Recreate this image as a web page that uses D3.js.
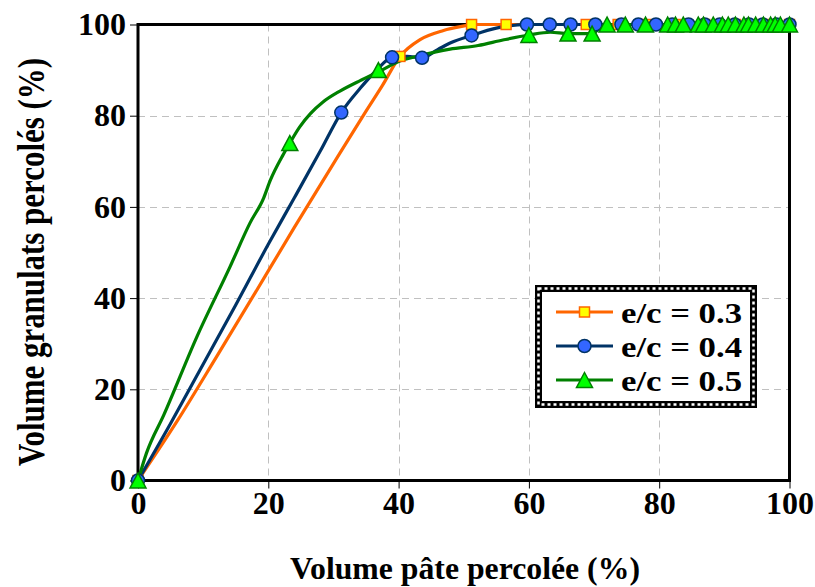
<!DOCTYPE html>
<html><head><meta charset="utf-8">
<script src="https://cdn.jsdelivr.net/npm/d3@7"></script>
<style>body{margin:0;background:#fff}svg{display:block}</style>
</head><body>
<svg id="c" width="815" height="587"></svg>
<script>
const xTicks = [0, 20, 40, 60, 80, 100];
const yTicks = [0, 20, 40, 60, 80, 100];
const xTitle = "Volume pâte percolée (%)";
const yTitle = "Volume granulats percolés (%)";
const seriesNames = ["e/c = 0.3", "e/c = 0.4", "e/c = 0.5"];

// smoothed curves (x, y)
const curve03 = [[0,0],[6,13],[12,27],[18,41.2],[24,55.5],[30,69.5],[35,81],[37.5,86.6],[40.2,93],[43.3,96.7],[46.9,98.7],[50.5,99.8],[51.2,100],[56.5,100],[100,100]];
const curve04 = [[0,0],[5,12.5],[10,25.5],[15,38.5],[20,51.8],[24,62],[28,72.3],[31.2,80.7],[34.1,86],[36.5,89.8],[39,92.8],[41.3,93],[43.6,92.7],[46,94.5],[48,96],[51.2,97.6],[55,99.2],[59.7,100],[100,100]];
const curve05 = [[0,0],[1.3,6],[4,14.5],[9,31.4],[14.1,46.8],[17.2,56.5],[19.3,62],[20.3,65.8],[22.3,71.5],[23.3,74],[24.8,77.5],[26.5,80.5],[28.4,83],[31,85.4],[34.1,87.7],[36.9,89.6],[40.2,92],[43.3,93.2],[47.9,94.6],[52.2,95.4],[56,96.6],[60,97.7],[63.3,98.3],[66,98],[69.7,98],[71,99.3],[72,100],[100,100]];

// measured points (markers)
const points03 = [[0,0],[40.2,93],[51.2,100],[56.5,100],[68.8,100],[73.7,100],[78,100],[82.5,100],[87,100],[91.7,100],[96,100],[100,100]];
const points04 = [[0,0],[31.2,80.7],[39,92.8],[43.6,92.7],[51.2,97.6],[59.7,100],[63.2,100],[66.4,100],[70.2,100],[74.2,100],[76.8,100],[79.5,100],[82,100],[84.5,100],[87,100],[89.3,100],[91.6,100],[93.8,100],[95.9,100],[98,100],[100,100]];
const points05 = [[0,0],[23.3,74],[36.9,90],[60,97.7],[66,98],[69.7,98],[72,100],[74.8,100],[77.9,100],[81.3,100],[82.5,100],[83.7,100],[86,100],[86.8,100],[88.3,100],[89.7,100],[90.6,100],[91.7,100],[93,100],[93.7,100],[94.8,100],[96,100],[97.1,100],[97.8,100],[98.6,100],[100,100]];

const FONT = "'Liberation Serif','Times New Roman',serif";
const svg = d3.select("#c");
const x = d3.scaleLinear().domain([0, 100]).range([138, 789.5]);
const y = d3.scaleLinear().domain([0, 100]).range([480.5, 24.5]);

// grid
const grid = svg.append("g").attr("stroke", "#c0c0c0").attr("stroke-width", 1).attr("stroke-dasharray", "7,5");
grid.selectAll(".gx").data(xTicks.filter(d => d > 0 && d < 100)).join("line")
  .attr("x1", d => Math.round(x(d)) + 0.5).attr("x2", d => Math.round(x(d)) + 0.5)
  .attr("y1", y(100)).attr("y2", y(0));
grid.selectAll(".gy").data(yTicks.filter(d => d > 0 && d < 100)).join("line")
  .attr("y1", d => Math.round(y(d)) + 0.5).attr("y2", d => Math.round(y(d)) + 0.5)
  .attr("x1", x(0)).attr("x2", x(100));

// axes (ticks + labels)
const ax = svg.append("g").attr("transform", `translate(0,${y(0)})`)
  .call(d3.axisBottom(x).tickValues(xTicks).tickSize(8).tickPadding(3).tickFormat(d3.format("d")));
const ay = svg.append("g").attr("transform", `translate(${x(0)},0)`)
  .call(d3.axisLeft(y).tickValues(yTicks).tickSize(8).tickPadding(4).tickFormat(d3.format("d")));
[ax, ay].forEach(a => {
  a.select(".domain").remove();
  a.selectAll("line").attr("stroke", "#000");
  a.selectAll("text").attr("font-family", FONT).attr("font-weight", "bold").attr("font-size", 32).attr("fill", "#000");
});

// plot border
svg.append("rect").attr("x", x(0)).attr("y", y(100)).attr("width", x(100) - x(0)).attr("height", y(0) - y(100))
  .attr("fill", "none").attr("stroke", "#000").attr("stroke-width", 3);

// titles
svg.append("text").attr("x", 465).attr("y", 579).attr("text-anchor", "middle")
  .attr("font-family", FONT).attr("font-weight", "bold").attr("font-size", 31)
  .attr("textLength", 350).attr("lengthAdjust", "spacingAndGlyphs").text(xTitle);
svg.append("text").attr("transform", "translate(44,262) rotate(-90) scale(1,1.12)").attr("text-anchor", "middle")
  .attr("font-family", FONT).attr("font-weight", "bold").attr("font-size", 34)
  .attr("textLength", 408).attr("lengthAdjust", "spacingAndGlyphs").text(yTitle);

const series = [
  {name: seriesNames[0], curve: curve03, pts: points03, line: "#FF6600", fill: "#FFFF00", stroke: "#FF6600", shape: "square"},
  {name: seriesNames[1], curve: curve04, pts: points04, line: "#003366", fill: "#3366FF", stroke: "#003366", shape: "circle"},
  {name: seriesNames[2], curve: curve05, pts: points05, line: "#008000", fill: "#00FF00", stroke: "#008000", shape: "triangle"}
];
const lineGen = d3.line().x(d => x(d[0])).y(d => y(d[1])).curve(d3.curveMonotoneX);

function marker(g, shape, fill, stroke) {
  if (shape === "square") g.append("rect").attr("x", -5).attr("y", -5).attr("width", 10).attr("height", 10).attr("fill", fill).attr("stroke", stroke).attr("stroke-width", 1.5);
  else if (shape === "circle") g.append("circle").attr("r", 6.5).attr("fill", fill).attr("stroke", stroke).attr("stroke-width", 1.5);
  else g.append("path").attr("d", "M0,-7.5L8,7.5L-8,7.5Z").attr("fill", fill).attr("stroke", stroke).attr("stroke-width", 1.5).attr("stroke-linejoin", "miter");
}

series.forEach(s => {
  svg.append("path").datum(s.curve).attr("d", lineGen).attr("fill", "none").attr("stroke", s.line).attr("stroke-width", 3.2).attr("stroke-linejoin", "round");
});
series.forEach(s => {
  s.pts.forEach(p => {
    const g = svg.append("g").attr("transform", `translate(${x(p[0])},${y(p[1])})`);
    marker(g, s.shape, s.fill, s.stroke);
  });
});

// legend
const lg = svg.append("g");
lg.append("rect").attr("x", 538.5).attr("y", 288.5).attr("width", 215).attr("height", 116).attr("fill", "#fff").attr("stroke", "#000").attr("stroke-width", 7);
lg.append("rect").attr("x", 538.5).attr("y", 288.5).attr("width", 215).attr("height", 116).attr("fill", "none").attr("stroke", "#fff").attr("stroke-width", 2.5).attr("stroke-dasharray", "3,3");
series.forEach((s, i) => {
  const cy = 312 + i * 34;
  lg.append("line").attr("x1", 556).attr("x2", 613).attr("y1", cy).attr("y2", cy).attr("stroke", s.line).attr("stroke-width", 3.2);
  marker(lg.append("g").attr("transform", `translate(584.5,${cy})`), s.shape, s.fill, s.stroke);
  lg.append("text").attr("x", 621).attr("y", cy).attr("dy", "0.35em").attr("font-family", FONT).attr("font-weight", "bold").attr("font-size", 30)
    .attr("textLength", 121).attr("lengthAdjust", "spacingAndGlyphs").text(s.name);
});
</script>
</body></html>
